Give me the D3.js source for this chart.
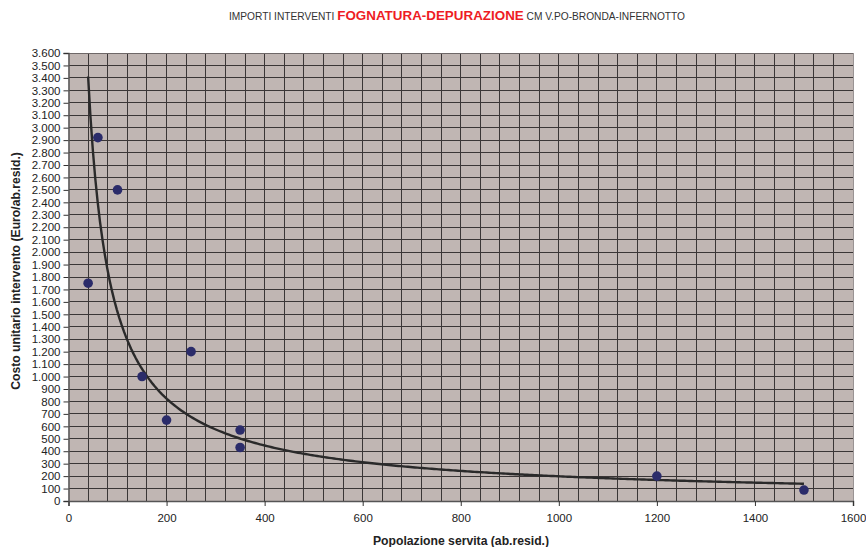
<!DOCTYPE html>
<html>
<head>
<meta charset="utf-8">
<script src="https://cdn.jsdelivr.net/npm/d3@7"></script>
<style>
  html, body { margin: 0; padding: 0; background: #ffffff; }
  svg { display: block; font-family: "Liberation Sans", Arial, sans-serif; }
</style>
</head>
<body>
<svg id="chart" width="866" height="547"></svg>
<script>
// Popolazione servita (ab.resid.) per intervento
const population = [40, 60, 100, 150, 200, 250, 350, 350, 1200, 1500];
// Costo unitario intervento (Euro/ab.resid.)
const unitCost = [1750, 2920, 2500, 1000, 650, 1200, 570, 430, 200, 88];

const xTicks = [0, 200, 400, 600, 800, 1000, 1200, 1400, 1600];
const yTicks = d3.range(0, 3601, 100);
const xGrid = d3.range(0, 1601, 40);

const svg = d3.select("#chart");
const margin = { left: 68.5, right: 13, top: 53, bottom: 46 };
const W = 866, H = 547;

const x = d3.scaleLinear().domain([0, 1600]).range([margin.left, W - margin.right]);
const y = d3.scaleLinear().domain([0, 3600]).range([H - margin.bottom, margin.top]);

const itFmt = d3.formatLocale({ decimal: ",", thousands: ".", grouping: [3], currency: ["€", ""] }).format(",d");

// plot area
svg.append("rect")
  .attr("x", x(0)).attr("y", y(3600))
  .attr("width", x(1600) - x(0)).attr("height", y(0) - y(3600))
  .attr("fill", "#c0b6b3");

// gridlines
const grid = svg.append("g").attr("stroke", "#3a3636").attr("stroke-width", 1).attr("shape-rendering", "crispEdges");
grid.selectAll("line.h").data(yTicks.slice(1)).join("line")
  .attr("x1", x(0)).attr("x2", x(1600))
  .attr("y1", d => y(d)).attr("y2", d => y(d));
grid.selectAll("line.v").data(xGrid.slice(1, -1)).join("line")
  .attr("x1", d => x(d)).attr("x2", d => x(d))
  .attr("y1", y(0)).attr("y2", y(3600));

// plot frame (light right edge)
svg.append("line").attr("x1", x(1600)).attr("x2", x(1600)).attr("y1", y(0)).attr("y2", y(3600))
  .attr("stroke", "#9a9494").attr("stroke-width", 1).attr("shape-rendering", "crispEdges");
svg.append("line").attr("x1", x(0)).attr("x2", x(1600)).attr("y1", y(3600)).attr("y2", y(3600))
  .attr("stroke", "#6e6868").attr("stroke-width", 1).attr("shape-rendering", "crispEdges");

// axes
const xAxis = svg.append("g").attr("transform", `translate(0,${y(0)})`)
  .call(d3.axisBottom(x).tickValues(xTicks).tickSize(5).tickPadding(8).tickFormat(d3.format("d")));
const yAxis = svg.append("g").attr("transform", `translate(${x(0)},0)`)
  .call(d3.axisLeft(y).tickValues(yTicks).tickSize(5).tickPadding(3).tickFormat(itFmt));
[xAxis, yAxis].forEach(a => {
  a.select(".domain").attr("stroke", "#555").attr("stroke-width", 1.5);
  a.selectAll(".tick line").attr("stroke", "#333");
  a.selectAll("text").attr("fill", "#222").attr("font-size", 11.5)
    .attr("font-family", "'Liberation Sans', Arial, sans-serif");
});

// power trendline (least squares on log-log values)
const lx = population.map(Math.log), ly = unitCost.map(Math.log);
const mx = d3.mean(lx), my = d3.mean(ly);
const b = d3.sum(lx, (v, i) => (v - mx) * (ly[i] - my)) / d3.sum(lx, v => (v - mx) * (v - mx));
const a = Math.exp(my - b * mx);
const [xmin, xmax] = d3.extent(population);
const trend = d3.range(xmin, xmax + 0.001, (xmax - xmin) / 300).map(v => [v, a * Math.pow(v, b)]);
svg.append("path").datum(trend)
  .attr("fill", "none").attr("stroke", "#2a2a2a").attr("stroke-width", 2.4)
  .attr("d", d3.line().x(d => x(d[0])).y(d => y(d[1])));

// data points
svg.append("g").selectAll("circle").data(population).join("circle")
  .attr("cx", d => x(d)).attr("cy", (d, i) => y(unitCost[i]))
  .attr("r", 4.8).attr("fill", "#2b2c6a");

// title
const title = svg.append("text").attr("x", 457).attr("y", 20).attr("text-anchor", "middle")
  .attr("font-size", 10.2).attr("fill", "#333");
title.append("tspan").text("IMPORTI INTERVENTI ");
title.append("tspan").attr("font-size", 13.4).attr("font-weight", "bold").attr("fill", "#ee1c24").text("FOGNATURA-DEPURAZIONE");
title.append("tspan").text(" CM V.PO-BRONDA-INFERNOTTO");

// axis titles
svg.append("text").attr("x", 461).attr("y", 545).attr("text-anchor", "middle")
  .attr("font-size", 12.2).attr("font-weight", "bold").attr("fill", "#222")
  .text("Popolazione servita (ab.resid.)");
svg.append("text").attr("transform", "translate(20,271) rotate(-90)").attr("text-anchor", "middle")
  .attr("font-size", 12.2).attr("font-weight", "bold").attr("fill", "#222")
  .text("Costo unitario intervento (Euro/ab.resid.)");
</script>
</body>
</html>
